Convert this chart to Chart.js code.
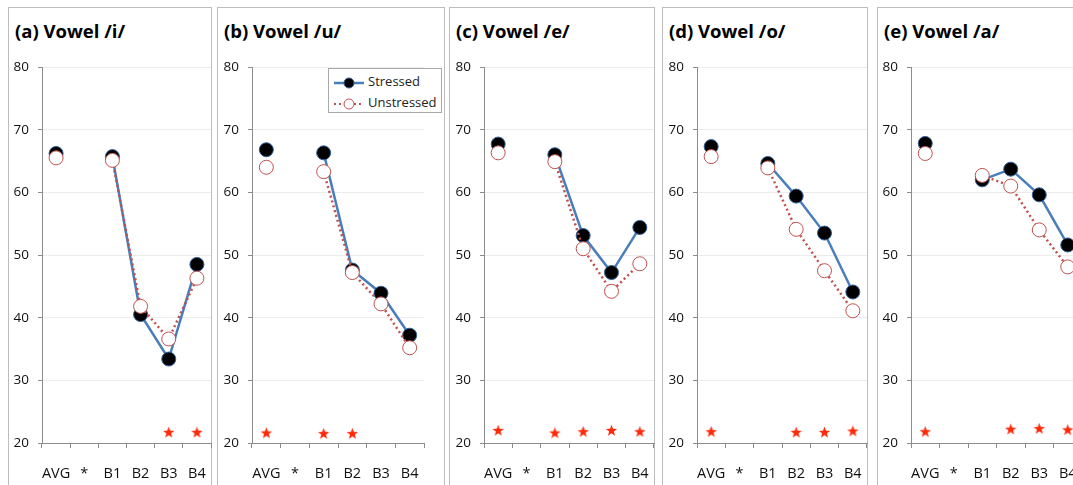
<!DOCTYPE html>
<html>
<head>
<meta charset="utf-8">
<script src="https://cdn.jsdelivr.net/npm/chart.js@4.4.0/dist/chart.umd.min.js"></script>
<style>
  html, body { margin: 0; padding: 0; background: #fff; }
  body { width: 1073px; height: 485px; overflow: hidden; position: relative; font-family: "Open Sans", sans-serif; }
  .panel { position: absolute; top: 7px; height: 520px; border: 1px solid #bdbdbd; box-sizing: border-box; }
  .title { position: absolute; top: 20px; font: bold 18.5px/22px "Open Sans", sans-serif; color: #000; white-space: nowrap; }
  .plot { position: absolute; top: 55px; height: 430px; }
  .legend { position: absolute; left: 328px; top: 68px; width: 114px; height: 45px; box-sizing: border-box;
            border: 1px solid #a9a9a9; background: #fff; font: 13px "Open Sans", sans-serif; color: #222; }
  .legend .row { position: absolute; left: 4px; height: 18px; line-height: 18px; white-space: nowrap; }
  .legend svg { vertical-align: middle; margin-right: 3px; }
</style>
</head>
<body>
<script>
/* Stressed vs. unstressed vowel values per block, five small panels */

const categories = ["AVG", "*", "B1", "B2", "B3", "B4"];
const titles = ["(a) Vowel /i/", "(b) Vowel /u/", "(c) Vowel /e/", "(d) Vowel /o/", "(e) Vowel /a/"];
const yMin = 20, yMax = 80, yStep = 10;

const stressedI   = [66.2, null, 65.7, 40.5, 33.4, 48.5];
const unstressedI = [65.5, null, 65.1, 41.8, 36.6, 46.3];
const starsI      = [null, null, null, null, 21.7, 21.7];

const stressedU   = [66.8, null, 66.3, 47.6, 43.9, 37.2];
const unstressedU = [64.0, null, 63.3, 47.2, 42.2, 35.2];
const starsU      = [21.6, null, 21.5, 21.5, null, null];

const stressedE   = [67.7, null, 66.0, 53.1, 47.2, 54.4];
const unstressedE = [66.3, null, 64.9, 51.0, 44.2, 48.6];
const starsE      = [22.0, null, 21.6, 21.8, 22.0, 21.8];

const stressedO   = [67.3, null, 64.6, 59.4, 53.5, 44.1];
const unstressedO = [65.7, null, 63.9, 54.1, 47.5, 41.1];
const starsO      = [21.8, null, null, 21.7, 21.7, 21.9];

const stressedA   = [67.8, null, 62.0, 63.7, 59.6, 51.6];
const unstressedA = [66.2, null, 62.7, 61.0, 54.0, 48.1];
const starsA      = [21.8, null, null, 22.2, 22.3, 22.1];

const stressedSets   = [stressedI, stressedU, stressedE, stressedO, stressedA];
const unstressedSets = [unstressedI, unstressedU, unstressedE, unstressedO, unstressedA];
const starSets       = [starsI, starsU, starsE, starsO, starsA];

// panel frames on the page: left/right border, y-axis width, space right of the plot
const frames = [
  { left: 8,   right: 212,  axisW: 34, padR: 1 },
  { left: 217, right: 445,  axisW: 35, padR: 21 },
  { left: 449, right: 655,  axisW: 35, padR: 1 },
  { left: 662, right: 868,  axisW: 35, padR: 1 },
  { left: 877, right: 1084, axisW: 34, padR: 2 },
];

const BLUE = "#4a7ebb";
const RED = "#c0504d";
const AXIS = "#8c8c8c";

function starMarker() {
  const c = document.createElement("canvas");
  c.width = 13; c.height = 13;
  const g = c.getContext("2d");
  g.fillStyle = "#ff2a0a";
  g.beginPath();
  for (let i = 0; i < 10; i++) {
    const r = i % 2 === 0 ? 6 : 2.5;
    const a = -Math.PI / 2 + i * Math.PI / 5;
    const px = 6.5 + r * Math.cos(a), py = 6.8 + r * Math.sin(a);
    if (i === 0) g.moveTo(px, py); else g.lineTo(px, py);
  }
  g.closePath();
  g.fill();
  return c;
}
const star = starMarker();

Chart.defaults.font.family = "'Open Sans', sans-serif";

frames.forEach(function (f, i) {
  const w = f.right - f.left;

  const panel = document.createElement("div");
  panel.className = "panel";
  panel.style.left = f.left + "px";
  panel.style.width = w + "px";
  document.body.appendChild(panel);

  const title = document.createElement("div");
  title.className = "title";
  title.style.left = (f.left + 7) + "px";
  title.textContent = titles[i];
  document.body.appendChild(title);

  const box = document.createElement("div");
  box.className = "plot";
  box.style.left = f.left + "px";
  box.style.width = w + "px";
  const cv = document.createElement("canvas");
  box.appendChild(cv);
  document.body.appendChild(box);

  new Chart(cv, {
    type: "line",
    data: {
      labels: categories,
      datasets: [
        {
          label: "Unstressed",
          data: unstressedSets[i],
          borderColor: RED,
          borderWidth: 2.5,
          borderDash: [2, 3],
          pointRadius: 7,
          pointBackgroundColor: "#fff",
          pointBorderColor: RED,
          pointBorderWidth: 1,
          tension: 0,
        },
        {
          label: "Stressed",
          data: stressedSets[i],
          borderColor: BLUE,
          borderWidth: 2.5,
          pointRadius: 7,
          pointBackgroundColor: "#000",
          pointBorderColor: "#2f5f9a",
          pointBorderWidth: 1,
          tension: 0,
        },
        {
          label: "sig",
          data: starSets[i],
          showLine: false,
          pointStyle: star,
          pointRadius: 6,
        },
      ],
    },
    options: {
      responsive: true,
      maintainAspectRatio: false,
      animation: false,
      events: [],
      layout: { autoPadding: false, padding: { top: 12, right: f.padR, left: 0, bottom: 0 } },
      plugins: { legend: { display: false }, tooltip: { enabled: false }, title: { display: false } },
      scales: {
        x: {
          offset: true,
          grid: { offset: true, drawOnChartArea: false, tickLength: 5, tickColor: AXIS },
          border: { color: AXIS },
          ticks: { padding: 17, color: "#111", font: { size: 14.5 }, autoSkip: false, maxRotation: 0 },
          afterFit: function (s) { s.height = 42; s.paddingLeft = 0; s.paddingRight = 0; },
        },
        y: {
          min: yMin,
          max: yMax,
          ticks: { stepSize: yStep, padding: 9, color: "#111", font: { size: 13.5 } },
          grid: { color: "#ececec", tickLength: 4, tickColor: AXIS },
          border: { color: AXIS },
          afterFit: function (s) { s.width = f.axisW; s.paddingTop = 0; s.paddingBottom = 0; },
        },
      },
    },
  });
});

// legend box in panel (b)
const legend = document.createElement("div");
legend.className = "legend";
legend.innerHTML =
  '<div class="row" style="top:3px"><svg width="32" height="14">' +
  '<line x1="1" y1="7" x2="31" y2="7" stroke="' + BLUE + '" stroke-width="2.5"/>' +
  '<circle cx="16" cy="7" r="5" fill="#000" stroke="#2f5f9a" stroke-width="1"/></svg>Stressed</div>' +
  '<div class="row" style="top:24px"><svg width="32" height="14">' +
  '<line x1="1" y1="7" x2="31" y2="7" stroke="' + RED + '" stroke-width="2" stroke-dasharray="2,3"/>' +
  '<circle cx="16" cy="7" r="5" fill="#fff" stroke="' + RED + '" stroke-width="1"/></svg>Unstressed</div>';
document.body.appendChild(legend);
</script>
</body>
</html>
